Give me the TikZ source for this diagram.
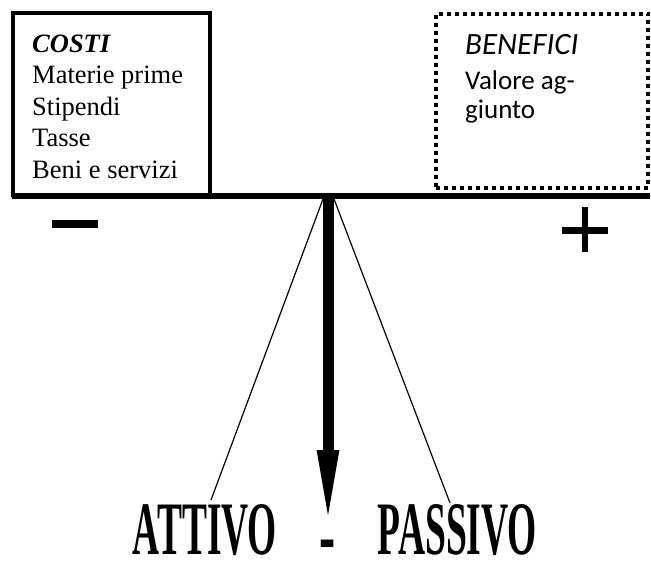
\documentclass[tikz,border=0pt]{standalone}
\usepackage{fontspec}
\setmainfont{Liberation Serif}
\newfontfamily\benfont{Carlito}
\usetikzlibrary{arrows.meta}
\begin{document}
\begin{tikzpicture}[x=1pt,y=-1pt,
  costitxt/.style={anchor=base west, inner sep=0pt, font=\fontsize{26.5}{31.5}\selectfont},
  bentitle/.style={anchor=base west, inner sep=0pt, font=\benfont\itshape\fontsize{31}{33}\selectfont},
  bentxt/.style={anchor=base west, inner sep=0pt, font=\benfont\fontsize{27}{29}\selectfont},
  bigword/.style={inner sep=0pt, font=\bfseries},
  thinline/.style={line width=1.2pt},
  signline/.style={line width=#1, line cap=butt},
]
\useasboundingbox (0,0) rectangle (651,560);
\fill[white] (0,0) rectangle (651,560);

% boxes
\node[draw, line width=4pt, minimum width=197pt, minimum height=182pt, inner sep=0pt] (costibox) at (111.5,104) {};
\node[draw, line width=4pt, dash pattern=on 4pt off 4pt, minimum width=212pt, minimum height=174.5pt, inner sep=0pt] (benbox) at (542,100.75) {};

% texts left
\node[costitxt] (costi) at (32,52) {\textbf{\textit{COSTI}}};
\node[costitxt] (materie) at (32,83) {Materie prime};
\node[costitxt] (stipendi) at (32,115) {Stipendi};
\node[costitxt] (tasse) at (32,146.5) {Tasse};
\node[costitxt] (beni) at (32,178) {Beni e servizi};

% texts right
\node[bentitle] (benefici) at (465,54) {BENEFICI};
\node[bentxt] (valore) at (465,89) {Valore ag-};
\node[bentxt] (giunto) at (465,118) {giunto};

% bar
\coordinate (barL) at (12,196);
\coordinate (barR) at (650,196);
\draw[line width=6pt] (barL) -- (barR);

% signs
\coordinate (mL) at (52,224);
\coordinate (mR) at (98,224);
\draw[signline=8pt] (mL) -- (mR);
\coordinate (pL) at (562,230);
\coordinate (pR) at (608,230);
\coordinate (pT) at (584.5,207);
\coordinate (pB) at (584.5,252);
\draw[signline=7pt] (pL) -- (pR);
\draw[signline=6pt] (pT) -- (pB);

% pivot and arrow
\coordinate (pivot) at (328,199);
\coordinate (tip) at (328,530);
\draw[line width=11pt, -{Triangle[length=80pt,width=19pt]}] (pivot) -- (tip);

% bottom words
\node[bigword] (attivo) at (205,530) {\resizebox{144pt}{50pt}{ATTIVO}};
\node[bigword] (passivo) at (457.5,530) {\resizebox{159pt}{50pt}{PASSIVO}};
\node[inner sep=0pt] (dash) at (327.5,552) {\scalebox{1.1}[2]{\fontsize{44}{44}\bfseries -}};

% thin lines
\coordinate (pl) at (323,199);
\coordinate (pr) at (334,199);
\coordinate (aL) at (211,500);
\coordinate (aR) at (450,503);
\draw[thinline] (pl) -- (aL);
\draw[thinline] (pr) -- (aR);
\end{tikzpicture}
\end{document}
